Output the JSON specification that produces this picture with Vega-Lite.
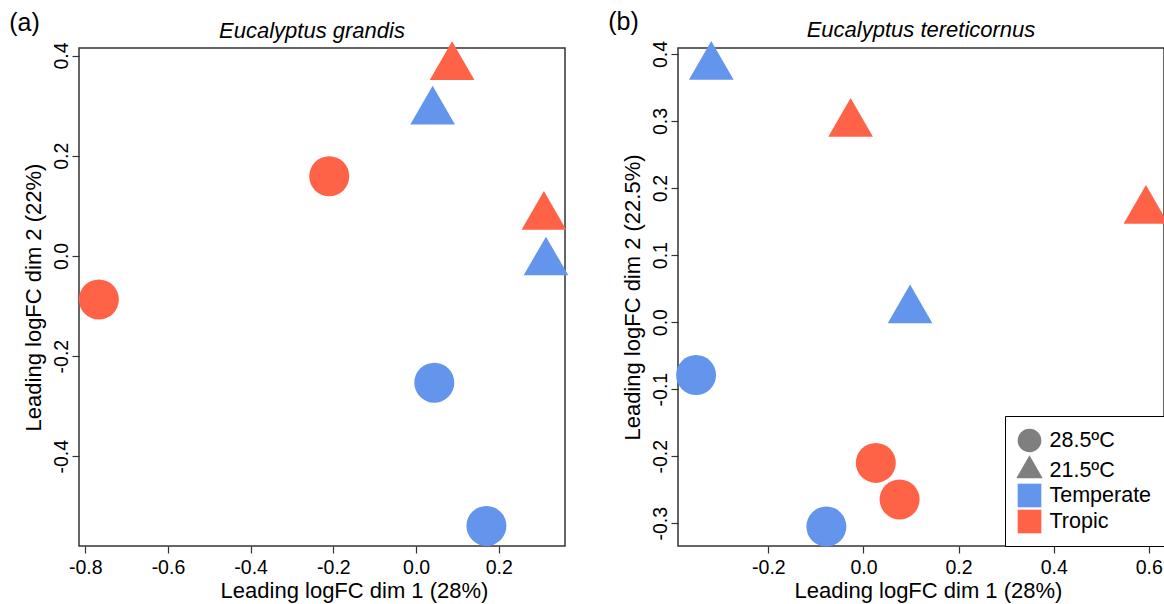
{
  "$schema": "https://vega.github.io/schema/vega-lite/v6.json",
  "padding": {"left": 9, "top": 10, "right": 0, "bottom": 0},
  "background": "white",
  "config": {
    "font": "Liberation Sans",
    "view": {"stroke": "#333333", "strokeWidth": 1.5},
    "axis": {"domain": false, "grid": false, "ticks": true, "tickSize": 7, "tickColor": "#333333", "tickWidth": 1.2, "labelFontSize": 19.5, "labelColor": "black", "labelFont": "Liberation Sans", "titleFont": "Liberation Sans", "titleFontSize": 22, "titleFontWeight": "normal", "titleColor": "black", "labelPadding": 5},
    "axisLeft": {"labelAngle": 270, "labelAlign": "center", "labelBaseline": "alphabetic", "titlePadding": 6},
    "axisBottom": {"titlePadding": 4},
    "title": {"font": "Liberation Sans", "color": "black", "fontWeight": "normal"},
    "legend": {"labelFontSize": 21.5, "labelFont": "Liberation Sans", "labelColor": "black", "symbolSize": 560, "symbolStrokeWidth": 0, "labelOffset": 8, "rowPadding": 2, "padding": 12.5, "strokeColor": "black", "fillColor": "white", "offset": 0, "symbolOpacity": 1}
  },
  "datasets": {
    "grandis": [
      {"dim1": 0.087, "dim2": 0.377, "provenance": "Tropic", "temperature": "21.5ºC"},
      {"dim1": 0.040, "dim2": 0.288, "provenance": "Temperate", "temperature": "21.5ºC"},
      {"dim1": -0.210, "dim2": 0.159, "provenance": "Tropic", "temperature": "28.5ºC"},
      {"dim1": 0.309, "dim2": 0.078, "provenance": "Tropic", "temperature": "21.5ºC"},
      {"dim1": 0.314, "dim2": -0.013, "provenance": "Temperate", "temperature": "21.5ºC"},
      {"dim1": -0.767, "dim2": -0.087, "provenance": "Tropic", "temperature": "28.5ºC"},
      {"dim1": 0.044, "dim2": -0.253, "provenance": "Temperate", "temperature": "28.5ºC"},
      {"dim1": 0.170, "dim2": -0.539, "provenance": "Temperate", "temperature": "28.5ºC"}
    ],
    "tereticornus": [
      {"dim1": -0.320, "dim2": 0.381, "provenance": "Temperate", "temperature": "21.5ºC"},
      {"dim1": -0.027, "dim2": 0.296, "provenance": "Tropic", "temperature": "21.5ºC"},
      {"dim1": 0.594, "dim2": 0.166, "provenance": "Tropic", "temperature": "21.5ºC"},
      {"dim1": 0.098, "dim2": 0.0175, "provenance": "Temperate", "temperature": "21.5ºC"},
      {"dim1": -0.352, "dim2": -0.079, "provenance": "Temperate", "temperature": "28.5ºC"},
      {"dim1": 0.026, "dim2": -0.210, "provenance": "Tropic", "temperature": "28.5ºC"},
      {"dim1": 0.076, "dim2": -0.2645, "provenance": "Tropic", "temperature": "28.5ºC"},
      {"dim1": -0.078, "dim2": -0.305, "provenance": "Temperate", "temperature": "28.5ºC"}
    ]
  },
  "resolve": {"legend": {"color": "independent", "shape": "independent"}},
  "spacing": 38,
  "hconcat": [
    {
      "title": {"text": "(a)", "fontSize": 25, "anchor": "start", "frame": "bounds", "baseline": "alphabetic", "offset": -36.8, "dx": -12},
      "resolve": {"legend": {"color": "independent", "shape": "independent"}},
      "vconcat": [
        {
          "title": {"text": "Eucalyptus grandis", "fontSize": 22, "fontStyle": "italic", "anchor": "middle", "frame": "group", "baseline": "alphabetic", "offset": -18.7, "dx": -10},
          "width": 486,
          "height": 498,
          "data": {"name": "grandis"},
          "mark": {"type": "point", "filled": true, "opacity": 1, "size": 1600, "strokeWidth": 0},
          "encoding": {
            "x": {"field": "dim1", "type": "quantitative", "scale": {"domain": [-0.815, 0.36], "nice": false, "zero": false}, "axis": {"values": [-0.8, -0.6, -0.4, -0.2, 0, 0.2], "title": "Leading logFC dim 1 (28%)", "titleX": 275, "labelExpr": "(datum.value < 0 ? '-' : '') + format(abs(datum.value), '.1f')"}},
            "y": {"field": "dim2", "type": "quantitative", "scale": {"domain": [-0.579, 0.415], "nice": false, "zero": false}, "axis": {"values": [-0.4, -0.2, 0, 0.2, 0.4], "title": "Leading logFC dim 2 (22%)", "labelExpr": "(datum.value < 0 ? '-' : '') + format(abs(datum.value), '.1f')"}},
            "color": {"field": "provenance", "type": "nominal", "scale": {"domain": ["28.5ºC", "21.5ºC", "Temperate", "Tropic"], "range": ["#7F7F7F", "#7F7F7F", "#6495ED", "#FF6347"]}, "legend": null},
            "shape": {"field": "temperature", "type": "nominal", "scale": {"domain": ["28.5ºC", "21.5ºC", "Temperate", "Tropic"], "range": ["circle", "M0,-1.29L1.1175,0.645L-1.1175,0.645Z", "square", "square"]}, "legend": null}
          }
        }
      ]
    },
    {
      "title": {"text": "(b)", "fontSize": 25, "anchor": "start", "frame": "bounds", "baseline": "alphabetic", "offset": -36.8, "dx": -12},
      "resolve": {"legend": {"color": "independent", "shape": "independent"}},
      "vconcat": [
        {
          "title": {"text": "Eucalyptus tereticornus", "fontSize": 22, "fontStyle": "italic", "anchor": "middle", "frame": "group", "baseline": "alphabetic", "offset": -18.7},
          "width": 486,
          "height": 498,
          "data": {"name": "tereticornus"},
          "mark": {"type": "point", "filled": true, "opacity": 1, "size": 1600, "strokeWidth": 0},
          "encoding": {
            "x": {"field": "dim1", "type": "quantitative", "scale": {"domain": [-0.39, 0.632], "nice": false, "zero": false}, "axis": {"values": [-0.2, 0, 0.2, 0.4, 0.6], "title": "Leading logFC dim 1 (28%)", "titleX": 250, "labelExpr": "(datum.value < 0 ? '-' : '') + format(abs(datum.value), '.1f')"}},
            "y": {"field": "dim2", "type": "quantitative", "scale": {"domain": [-0.334, 0.409], "nice": false, "zero": false}, "axis": {"values": [-0.3, -0.2, -0.1, 0, 0.1, 0.2, 0.3, 0.4], "title": "Leading logFC dim 2 (22.5%)", "labelExpr": "(datum.value < 0 ? '-' : '') + format(abs(datum.value), '.1f')"}},
            "color": {"field": "provenance", "type": "nominal", "scale": {"domain": ["28.5ºC", "21.5ºC", "Temperate", "Tropic"], "range": ["#7F7F7F", "#7F7F7F", "#6495ED", "#FF6347"]}, "legend": {"orient": "bottom-right", "title": null, "offset": 0}},
            "shape": {"field": "temperature", "type": "nominal", "scale": {"domain": ["28.5ºC", "21.5ºC", "Temperate", "Tropic"], "range": ["circle", "M0,-1.29L1.1175,0.645L-1.1175,0.645Z", "square", "square"]}, "legend": {"orient": "bottom-right", "title": null, "offset": 0}}
          }
        }
      ]
    }
  ]
}
